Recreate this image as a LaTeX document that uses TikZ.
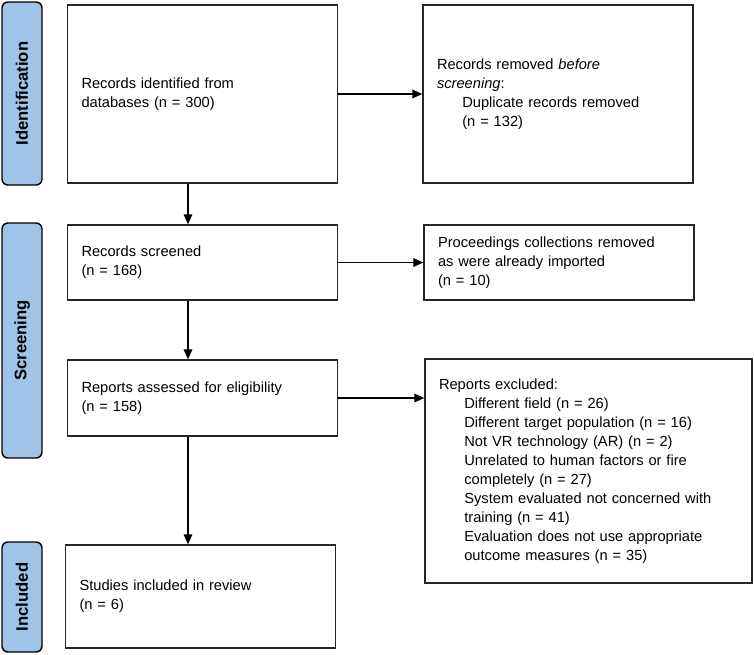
\documentclass[tikz,border=0pt]{standalone}
\usepackage{fontspec}
\setmainfont{Liberation Sans}
\usetikzlibrary{arrows.meta}
\definecolor{stagefill}{RGB}{160,196,232}
\newcommand{\ind}{\hspace*{19pt}}
\tikzset{
  box/.style={draw=black!85, line width=1pt, align=left, inner xsep=10.5pt,
    font={\fontsize{11}{14.25}\selectfont}, text width=181.5pt,
    minimum width=202.5pt},
  stage/.style={draw=black, line width=1.1pt, fill=stagefill, rounded corners=4.5pt,
    rotate=90, minimum height=30pt, font={\fontsize{12.5}{14}\selectfont\bfseries}},
  arr/.style={line width=0.8pt, -{Triangle[length=7.5pt,width=6.5pt]}}
}
\begin{document}
\begin{tikzpicture}[x=0.75pt,y=-0.75pt]
    \useasboundingbox (0,0) rectangle (754,654);
    \node[stage, minimum width=137.25pt] (sident) at (22,93.5) {Identification};
    \node[stage, minimum width=176.25pt] (sscreen) at (22,340.5) {Screening};
    \node[stage, minimum width=82.5pt] (sincl) at (22,597) {Included};

    \node[box, minimum height=133.5pt] (ident) at (202.5,94) {Records identified from\\databases (n = 300)\\[6pt]};
    \node[box, minimum height=133.5pt] (removed) at (558,94) {Records removed \textit{before}\\\textit{screening}:\\\ind Duplicate records removed\\\ind (n = 132)};
    \node[box, minimum height=56.25pt] (screen) at (202.5,262.5) {Records screened\\(n = 168)\\[-4pt]};
    \node[box, minimum height=56.25pt] (procs) at (559,262.5) {Proceedings collections removed\\as were already imported\\(n = 10)};
    \node[box, minimum height=57pt] (assess) at (202.5,398) {Reports assessed for eligibility\\(n = 158)};
    \node[box, minimum height=168pt, text width=224.25pt, minimum width=245.25pt] (excl) at (588.5,471) {Reports excluded:\\\ind Different field (n = 26)\\\ind Different target population (n = 16)\\\ind Not VR technology (AR) (n = 2)\\\ind Unrelated to human factors or fire\\\ind completely (n = 27)\\\ind System evaluated not concerned with\\\ind training (n = 41)\\\ind Evaluation does not use appropriate\\\ind outcome measures (n = 35)};
    \node[box, minimum height=77.25pt] (incl) at (200.5,596.5) {Studies included in review\\(n = 6)\\[2pt]};

    \coordinate (col) at (188,0);
    \draw[arr] (ident) -- (removed);
    \draw[arr] (screen) -- (procs);
    \draw[arr] (assess.east) -- (assess.east -| excl.west);
    \draw[arr] (ident.south -| col) -- (screen.north -| col);
    \draw[arr] (screen.south -| col) -- (assess.north -| col);
    \draw[arr] (assess.south -| col) -- (incl.north -| col);
\end{tikzpicture}
\end{document}
